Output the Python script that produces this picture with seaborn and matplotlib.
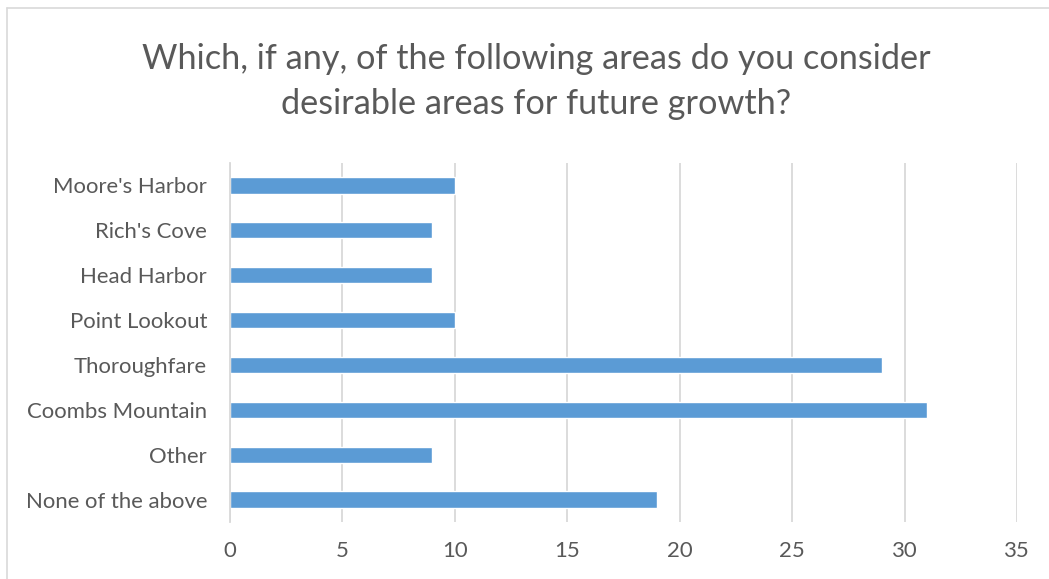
import matplotlib
matplotlib.use("Agg")
import matplotlib.pyplot as plt
from matplotlib.lines import Line2D
import seaborn as sns
import pandas as pd

areas = ["Moore's Harbor", "Rich's Cove", "Head Harbor", "Point Lookout",
         "Thoroughfare", "Coombs Mountain", "Other", "None of the above"]
responses = [10, 9, 9, 10, 29, 31, 9, 19]
x_ticks = [0, 5, 10, 15, 20, 25, 30, 35]
title = "Which, if any, of the following areas do you consider\ndesirable areas for future growth?"

df = pd.DataFrame({"area": areas, "responses": responses})

sns.set_theme(style="white")
plt.rcParams["font.family"] = ["Lato", "DejaVu Sans"]

W, H = 1049, 579
fig = plt.figure(figsize=(W / 100, H / 100), dpi=100)
ax = fig.add_axes([230 / W, 1 - 522 / H, (1017 - 230) / W, (522 - 163) / H])

sns.barplot(data=df, x="responses", y="area", order=areas, orient="h",
            color="#5B9BD5", saturation=1, width=0.36, ax=ax)

ax.set_xlim(0, 35)
ax.set_ylim(len(areas) - 0.5, -0.5)
ax.set_xticks(x_ticks)
ax.set_xlabel("")
ax.set_ylabel("")
ax.grid(axis="x", color="#D9D9D9", linewidth=1.3)
ax.set_axisbelow(True)
for s in ["top", "right", "bottom"]:
    ax.spines[s].set_visible(False)
ax.spines["left"].set_color("#D9D9D9")
ax.spines["left"].set_linewidth(1.3)
ax.tick_params(axis="both", length=0, colors="#595959", labelsize=15.9)
ax.tick_params(axis="y", pad=16.5)
ax.tick_params(axis="x", pad=14)

fig.text(536 / W, 1 - 43 / H, title, ha="center", va="top",
         fontsize=24.7, color="#595959", linespacing=1.5)

# outer chart frame (left and top edges)
fig.add_artist(Line2D([7 / W, 7 / W], [0, 1 - 8 / H], transform=fig.transFigure,
                      color="#D9D9D9", linewidth=1.2))
fig.add_artist(Line2D([7 / W, 1], [1 - 8 / H, 1 - 8 / H], transform=fig.transFigure,
                      color="#D9D9D9", linewidth=1.2))

fig.savefig("out.png", dpi=100, facecolor="white")
